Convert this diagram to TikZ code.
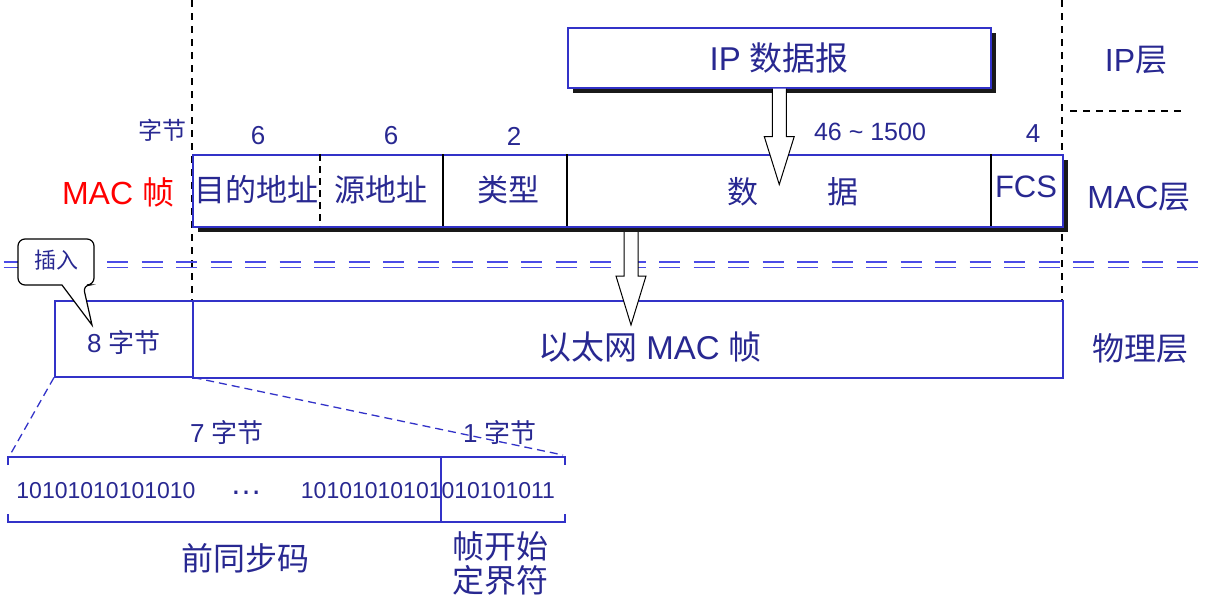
\documentclass[tikz,border=0pt]{standalone}
\usepackage{fontspec}
\setmainfont{Liberation Sans}
\newfontfamily\cjk{Noto Sans CJK SC}
\newcommand{\zh}[1]{{\cjk #1}}
\usepackage{xcolor}
\usetikzlibrary{positioning, calc}
\definecolor{txtblue}{RGB}{40,40,145}
\definecolor{lineblue}{RGB}{50,50,200}
\definecolor{dashblue}{RGB}{75,75,230}

\begin{document}
\begin{tikzpicture}[
  x=1pt, y=-1pt,
  lbl/.style    = {inner sep=0pt, text=txtblue},
  fs/.style     = {font=\fontsize{#1}{#1}\selectfont},
  framebox/.style = {draw=lineblue, line width=1.5pt, fill=white,
                     inner sep=0pt, anchor=north west},
  shade/.style  = {fill=black!90},
  frameline/.style = {lineblue, line width=1.5pt},
  divider/.style = {black, line width=1.2pt},
  vdash/.style  = {black, line width=1.1pt, dash pattern=on 7pt off 6pt},
  layerdash/.style = {dashblue, line width=1.4pt, dash pattern=on 21pt off 13.5pt},
  zoomdash/.style = {lineblue, line width=1.3pt, dash pattern=on 8pt off 5pt},
  hollow/.style = {draw=black, fill=white, line width=1pt, line join=miter}
]
\useasboundingbox (0,0) rectangle (1217,603);

%% ---- layer borders ----
\draw[vdash] (192,0) -- (192,300);
\draw[vdash] (1062,0) -- (1062,300);
\draw[vdash] (1070,111) -- (1183,111);

\node[lbl, fs=32] (lip)  at (1136,60)  {IP\zh{层}};
\node[lbl, fs=32] (lmac) at (1139,197) {MAC\zh{层}};
\node[lbl, fs=32] (lphy) at (1140,348) {\zh{物理层}};

%% ---- IP datagram ----
\fill[shade] (573,33) rectangle (996,93);
\node[framebox, minimum width=423, minimum height=60] (ip) at (567,27) {};
\node[lbl, fs=33] at (ip.center) {IP \zh{数据报}};

%% ---- MAC frame ----
\fill[shade] (198,160) rectangle (1068,232);
\node[framebox, minimum width=870, minimum height=72] (mac) at (192,154) {};
\draw[divider, dash pattern=on 7pt off 5pt] (320,154) -- (320,226);
\draw[divider] (443,154) -- (443,226);
\draw[divider] (567,154) -- (567,226);
\draw[divider] (991,154) -- (991,226);

\node[lbl, fs=24] (unit) at (162,130) {\zh{字节}};
\node[lbl, fs=26] (n1) at (258,136) {6};
\node[lbl, fs=26] (n2) at (391,136) {6};
\node[lbl, fs=26] (n3) at (514,136) {2};
\node[lbl, fs=25] (n4) at (870,132) {46 \char`~\ 1500};
\node[lbl, fs=26] (n5) at (1033,134) {4};

\node[lbl, fs=31] (dst)  at (256,190) {\zh{目的地址}};
\node[lbl, fs=31] (src)  at (381,190) {\zh{源地址}};
\node[lbl, fs=31] (type) at (508,190) {\zh{类型}};
\node[lbl, fs=31] (d1)   at (743,192) {\zh{数}};
\node[lbl, fs=31] (d2)   at (843,192) {\zh{据}};
\node[lbl, fs=31] (fcs)  at (1026,187) {FCS};
\node[inner sep=0pt, text=red, fs=32] (macname) at (118,192) {MAC \zh{帧}};

\draw[hollow] (ip.south) ++(-7,0) -- ++(0,48) -- ++(-8,0) -- ++(15,48)
  -- ++(15,-48) -- ++(-8,0) -- ++(0,-48);

%% ---- physical layer ----
\node[framebox, minimum width=870, minimum height=77] (phy) at (192,300) {};
\node[framebox, minimum width=138, minimum height=76] (pre) at (54,300) {};
\node[lbl, fs=33] at (650,347) {\zh{以太网} MAC \zh{帧}};
\node[lbl, fs=26] (pre8) at (124,343) {8 \zh{字节}};

\draw[layerdash] (3.5,262) -- (1205,262);
\draw[layerdash] (3.5,267.5) -- (1205,267.5);

\coordinate (macarr) at (631,232);
\draw[hollow] (macarr) ++(-7,0) -- ++(0,44) -- ++(-8,0) -- ++(15,49)
  -- ++(15,-49) -- ++(-8,0) -- ++(0,-44);

%% ---- insert callout ----
\draw[black, line width=1.2pt, fill=white, rounded corners=7pt]
  (18,262) |- (94,239) |- (83,285) [sharp corners] -- (92,325) -- (62,285)
  [rounded corners=7pt] -| (18,262) -- cycle;
\node[lbl, fs=22] (ins) at (56,260) {\zh{插入}};

%% ---- preamble + SFD ----
\draw[zoomdash] (pre.south west) -- (10,455);
\draw[zoomdash] (pre.south east) -- (563,455);

\draw[frameline] (8,465) |- (565,457) -- (565,465);
\draw[frameline] (8,514) |- (565,522) -- (565,514);
\draw[frameline, line width=1.2pt] (441,457) -- (441,522);

\node[lbl, fs=26] (b7) at (227,433) {7 \zh{字节}};
\node[lbl, fs=26] (b1) at (500,433) {1 \zh{字节}};

\node[lbl, fs=23] (bits1) at (106,491) {10101010101010};
\node[lbl, fs=32] (dots)  at (246,493) {…};
\node[lbl, fs=23] (bits2) at (428,491) {10101010101010101011};

\node[lbl, fs=32] (preamble) at (245,558) {\zh{前同步码}};
\node[lbl, fs=32, align=center] (sfd) at (500,563)
  {\zh{帧开始}\\[2pt]\zh{定界符}};

\end{tikzpicture}
\end{document}
